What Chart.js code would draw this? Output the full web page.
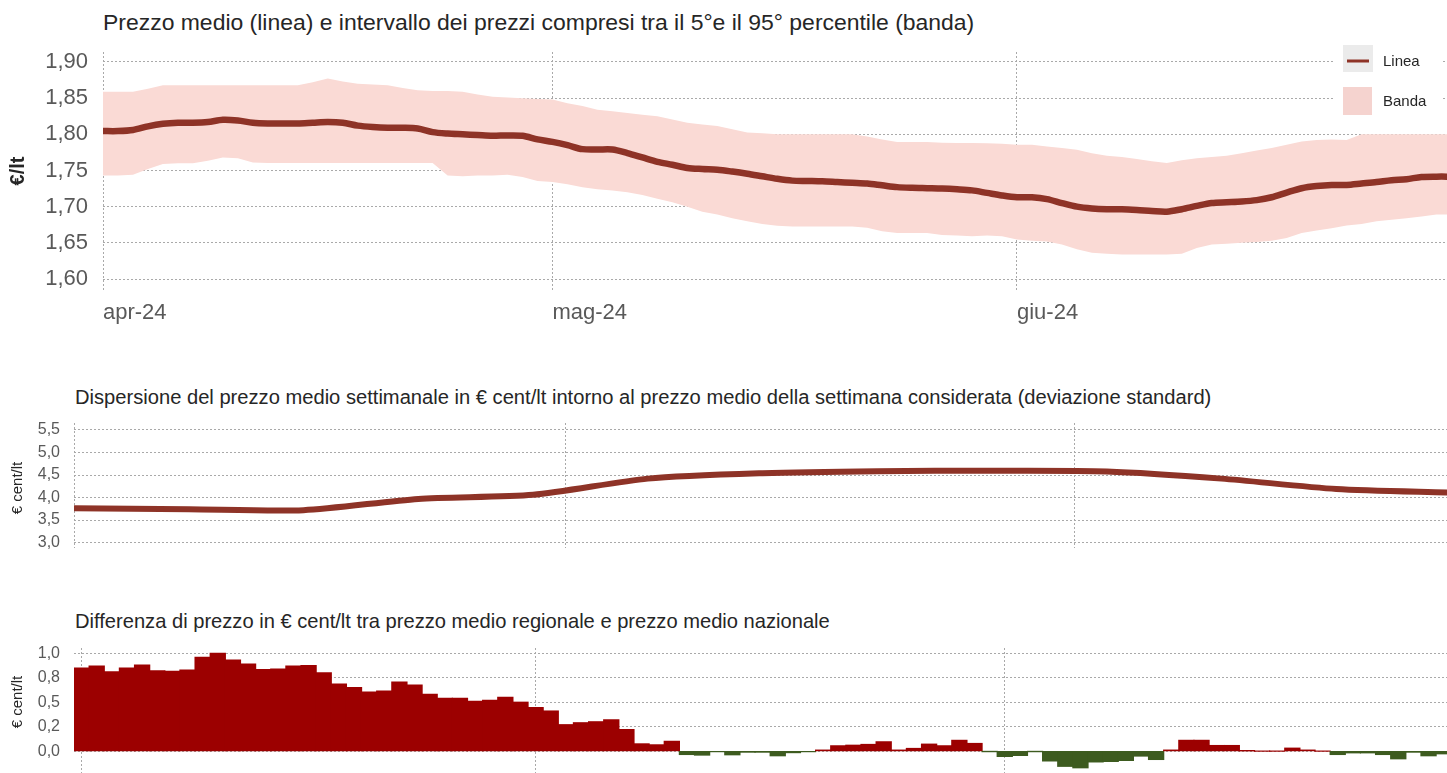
<!DOCTYPE html>
<html><head><meta charset="utf-8">
<script src="https://cdn.jsdelivr.net/npm/chart.js@4.4.1/dist/chart.umd.min.js"></script>
<style>
html,body{margin:0;padding:0;background:#fff;overflow:hidden;width:1447px;height:773px}
.t{position:absolute;font-family:"Liberation Sans",Arial,sans-serif;color:#262626;white-space:nowrap;line-height:1}
canvas{position:absolute;left:0}
</style></head><body>
<div class="t" id="t1" style="left:103px">Prezzo medio (linea) e intervallo dei prezzi compresi tra il 5°e il 95° percentile (banda)</div>
<div class="t" id="t2" style="left:75px">Dispersione del prezzo medio settimanale in € cent/lt intorno al prezzo medio della settimana considerata (deviazione standard)</div>
<div class="t" id="t3" style="left:75px">Differenza di prezzo in € cent/lt tra prezzo medio regionale e prezzo medio nazionale</div>
<canvas id="c1" width="1447" height="330" style="top:0"></canvas>
<canvas id="c2" width="1447" height="140" style="top:415px"></canvas>
<canvas id="c3" width="1447" height="170" style="top:640px"></canvas>
<script>
// ---------------- DATA ----------------
// daily categories: day index from 1 April 2024 (0) to 30 June 2024 (90)
const days = Array.from({length: 91}, (_, i) => i);
const monthTickDays = [0, 30, 61];
const monthTickLabels = ['apr-24', 'mag-24', 'giu-24'];

// prezzo medio giornaliero (€/lt)
const prezzoMedio = [1.8045,1.8045,1.806,1.811,1.8145,1.816,1.816,1.817,1.820,1.819,
1.816,1.815,1.815,1.815,1.816,1.817,1.816,1.812,1.810,1.809,
1.809,1.808,1.803,1.801,1.800,1.799,1.798,1.7985,1.798,1.793,
1.7895,1.785,1.7795,1.779,1.779,1.774,1.768,1.762,1.758,1.7535,
1.752,1.751,1.7485,1.7455,1.742,1.7385,1.736,1.7355,1.735,1.734,
1.733,1.732,1.7295,1.727,1.726,1.7255,1.725,1.724,1.7225,1.719,
1.7155,1.713,1.713,1.7105,1.705,1.700,1.6975,1.6965,1.6965,1.6955,
1.694,1.693,1.6965,1.701,1.705,1.706,1.707,1.709,1.713,1.7195,
1.7255,1.7285,1.730,1.730,1.732,1.734,1.7365,1.738,1.741,1.7415,1.7415];

// 95° percentile (€/lt)
const percentile95 = [1.859,1.859,1.859,1.863,1.868,1.868,1.868,1.868,1.868,1.868,
1.868,1.868,1.868,1.868,1.872,1.877,1.873,1.870,1.869,1.868,
1.864,1.861,1.860,1.860,1.859,1.855,1.852,1.851,1.850,1.849,
1.848,1.843,1.839,1.834,1.832,1.8295,1.827,1.825,1.8205,1.816,
1.8136,1.8114,1.807,1.8025,1.8014,1.800,1.800,1.800,1.800,1.800,
1.800,1.797,1.793,1.7895,1.7895,1.7895,1.7885,1.788,1.788,1.7877,
1.787,1.7855,1.7855,1.7832,1.781,1.7786,1.774,1.7705,1.7686,1.766,
1.7627,1.7605,1.764,1.767,1.7686,1.7705,1.774,1.7777,1.781,1.7855,
1.790,1.7923,1.793,1.7923,1.800,1.800,1.800,1.800,1.800,1.800,1.800];

// 5° percentile (€/lt)
const percentile5 = [1.743,1.743,1.744,1.752,1.759,1.760,1.760,1.7636,1.768,1.767,
1.761,1.7605,1.7605,1.7605,1.7605,1.7605,1.7605,1.7605,1.7605,1.7605,
1.7605,1.7605,1.7605,1.743,1.742,1.743,1.743,1.744,1.741,1.7355,
1.734,1.731,1.727,1.724,1.7225,1.720,1.716,1.711,1.706,1.700,
1.693,1.689,1.684,1.680,1.676,1.6735,1.6727,1.6727,1.6727,1.6727,
1.6727,1.671,1.6659,1.6636,1.6636,1.6636,1.661,1.660,1.659,1.660,
1.659,1.6545,1.653,1.652,1.6477,1.641,1.6364,1.635,1.634,1.634,
1.634,1.634,1.635,1.643,1.6477,1.6486,1.650,1.651,1.653,1.6568,
1.6636,1.667,1.670,1.674,1.676,1.680,1.682,1.684,1.6864,1.689,1.689];

const prezzoTicks = [1.60, 1.65, 1.70, 1.75, 1.80, 1.85, 1.90];
const prezzoTickLabels = ['1,60', '1,65', '1,70', '1,75', '1,80', '1,85', '1,90'];

// deviazione standard settimanale (€ cent/lt)
const weekDays = [0, 7, 14, 21, 28, 35, 42, 49, 56, 63, 70, 77, 84];
const deviazione = [3.76, 3.74, 3.72, 3.97, 4.06, 4.42, 4.54, 4.585, 4.595, 4.58, 4.42, 4.19, 4.11];
const devTicks = [3.0, 3.5, 4.0, 4.5, 5.0, 5.5];
const devTickLabels = ['3,0', '3,5', '4,0', '4,5', '5,0', '5,5'];

// differenza prezzo regionale - nazionale (€ cent/lt)
const differenza = [0.85,0.87,0.81,0.85,0.88,0.82,0.815,0.83,0.96,1.00,
0.93,0.89,0.835,0.84,0.87,0.875,0.80,0.685,0.65,0.605,
0.615,0.705,0.675,0.58,0.54,0.54,0.51,0.52,0.55,0.50,
0.445,0.41,0.27,0.29,0.30,0.32,0.22,0.074,0.064,0.10,
-0.034,-0.04,-0.005,-0.037,-0.01,-0.01,-0.047,-0.015,-0.005,0.01,
0.054,0.06,0.068,0.095,0.01,0.027,0.071,0.054,0.11,0.078,
-0.003,-0.054,-0.044,-0.003,-0.10,-0.155,-0.17,-0.11,-0.105,-0.095,
-0.05,-0.085,0.01,0.11,0.11,0.057,0.057,0.003,0,0,
0.03,0.01,0,-0.034,-0.017,-0.017,-0.034,-0.078,-0.01,-0.047,-0.027];
const diffTicks = [0, 0.25, 0.5, 0.75, 1.0];
const diffTickLabels = ['0,0', '0,2', '0,5', '0,8', '1,0'];

// ---------------- STYLE ----------------
const LINE = '#8e3327', BAND = '#fadad5', BAND_LEG = '#f5d3cf', GRID = '#a9a9a9';
const RED = '#9c0000', GREEN = '#3d5b1f', TICK = '#595959';
const FONT = '"Liberation Sans", Arial, sans-serif';
Chart.defaults.font.family = FONT;
Chart.defaults.animation = false;

// ---------------- TITLES ----------------
function placeTitle(id, targetWidth, baseline) {
  const el = document.getElementById(id);
  el.style.fontSize = '20px';
  const w = el.getBoundingClientRect().width;
  const fs = 20 * targetWidth / w;
  el.style.fontSize = fs + 'px';
  el.style.top = (baseline - 0.8465 * fs) + 'px';
}
placeTitle('t1', 872, 30);
placeTitle('t2', 1137, 404);
placeTitle('t3', 755, 628);

// rotated y-axis title plugin
const yTitle = {
  id: 'yTitle',
  afterDraw(chart, args, o) {
    const ctx = chart.ctx;
    ctx.save();
    ctx.translate(o.x, o.y);
    ctx.rotate(-Math.PI / 2);
    ctx.font = o.font;
    ctx.fillStyle = '#262626';
    ctx.textAlign = 'center';
    ctx.textBaseline = 'middle';
    ctx.fillText(o.text, 0, 0);
    ctx.restore();
  }
};

const insideLegend = {
  id: 'insideLegend',
  afterDatasetsDraw(chart) {
    const {ctx, chartArea: ca} = chart;
    const x0 = ca.right - 104;
    ctx.save();
    ctx.fillStyle = '#ffffff';
    ctx.fillRect(x0 - 10, 40, 108, 82);
    ctx.fillStyle = '#ebebeb';
    ctx.fillRect(x0, 45, 30, 27);
    ctx.strokeStyle = chart.data.datasets[0].borderColor;
    ctx.lineWidth = 3;
    ctx.beginPath(); ctx.moveTo(x0 + 4, 61); ctx.lineTo(x0 + 26, 61); ctx.stroke();
    ctx.fillStyle = BAND_LEG;
    ctx.fillRect(x0, 87, 29, 28);
    ctx.fillStyle = '#262626';
    ctx.font = '15px ' + FONT;
    ctx.textBaseline = 'middle';
    ctx.fillText(chart.data.datasets[0].label, x0 + 40, 62);
    ctx.fillText(chart.data.datasets[1].label, x0 + 40, 102);
    ctx.restore();
  }
};

function gridOpts() { return { color: GRID, lineWidth: 1, drawTicks: false, offset: false }; }
function borderOpts() { return { display: false, dash: [2, 2] }; }
function monthAxis(min, max, showLabels, h) {
  return {
    type: 'linear', min: min, max: max, offset: false,
    afterBuildTicks: s => { s.ticks = monthTickDays.map(v => ({value: v})); },
    afterFit: s => { s.height = h; s.paddingLeft = 0; s.paddingRight = 0; },
    grid: gridOpts(), border: borderOpts(),
    ticks: {
      display: showLabels, autoSkip: false, maxRotation: 0, align: 'start',
      padding: 10, color: TICK, font: {size: 22},
      callback: (v, i) => monthTickLabels[i]
    }
  };
}
function valueAxis(min, max, ticks, labels, width, size, pad) {
  return {
    min: min, max: max,
    afterBuildTicks: s => { s.ticks = ticks.map(v => ({value: v})); },
    afterFit: s => { s.width = width; s.paddingTop = 0; s.paddingBottom = 0; },
    grid: gridOpts(), border: borderOpts(),
    ticks: { autoSkip: false, padding: pad, color: TICK, font: {size: size},
      callback: (v, i) => labels[i] }
  };
}

// ---------------- CHART 1 ----------------
new Chart(document.getElementById('c1'), {
  type: 'line',
  data: { datasets: [
    { label: 'Linea', data: days.map((d, i) => ({x: d, y: prezzoMedio[i]})),
      borderColor: LINE, borderWidth: 6.5, pointRadius: 0, fill: false, tension: 0.3, order: 0, clip: 0 },
    { label: 'Banda', data: days.map((d, i) => ({x: d, y: percentile95[i]})),
      borderWidth: 0, borderColor: 'rgba(0,0,0,0)', backgroundColor: BAND, pointRadius: 0, fill: '+1', order: 1, clip: 0 },
    { label: '5° percentile', data: days.map((d, i) => ({x: d, y: percentile5[i]})),
      borderWidth: 0, borderColor: 'rgba(0,0,0,0)', pointRadius: 0, fill: false, order: 2, clip: 0 }
  ]},
  options: {
    responsive: false,
    layout: { padding: { top: 52, left: 0, right: 0, bottom: 0 } },
    plugins: { legend: {display: false}, tooltip: {enabled: false},
      yTitle: { text: '€/lt', x: 18, y: 171, font: 'bold 20px ' + FONT } },
    scales: {
      x: monthAxis(0, 89.7, true, 40),
      y: valueAxis(1.5848, 1.9138, prezzoTicks, prezzoTickLabels, 103, 22, 15)
    }
  },
  plugins: [yTitle, insideLegend]
});

// ---------------- CHART 2 ----------------
new Chart(document.getElementById('c2'), {
  type: 'line',
  data: { datasets: [
    { label: 'Deviazione standard', data: weekDays.map((d, i) => ({x: d, y: deviazione[i]})),
      borderColor: LINE, borderWidth: 6, pointRadius: 0, fill: false, tension: 0.25, clip: 0 }
  ]},
  options: {
    responsive: false,
    layout: { padding: { top: 8, left: 0, right: 0, bottom: 0 } },
    plugins: { legend: {display: false}, tooltip: {enabled: false},
      yTitle: { text: '€ cent/lt', x: 18, y: 73, font: '15px ' + FONT } },
    scales: {
      x: monthAxis(0, 83.75, false, 7),
      y: valueAxis(2.88, 5.655, devTicks, devTickLabels, 74, 16, 14)
    }
  },
  plugins: [yTitle]
});

// ---------------- CHART 3 ----------------
new Chart(document.getElementById('c3'), {
  type: 'bar',
  data: { datasets: [
    { label: 'Differenza', data: days.map((d, i) => ({x: d, y: differenza[i]})),
      backgroundColor: c => (c.raw && c.raw.y < 0 ? GREEN : RED),
      borderWidth: 0, inflateAmount: 0.6, barPercentage: 1, categoryPercentage: 1, clip: 0 }
  ]},
  options: {
    responsive: false,
    layout: { padding: { top: 8, left: 0, right: 0, bottom: 0 } },
    plugins: { legend: {display: false}, tooltip: {enabled: false},
      yTitle: { text: '€ cent/lt', x: 18, y: 62, font: '15px ' + FONT } },
    scales: {
      x: monthAxis(-0.5, 90.22, false, 10),
      y: valueAxis(-0.5, 1.055, diffTicks, diffTickLabels, 74, 16, 14)
    }
  },
  plugins: [yTitle]
});
</script>
</body></html>
